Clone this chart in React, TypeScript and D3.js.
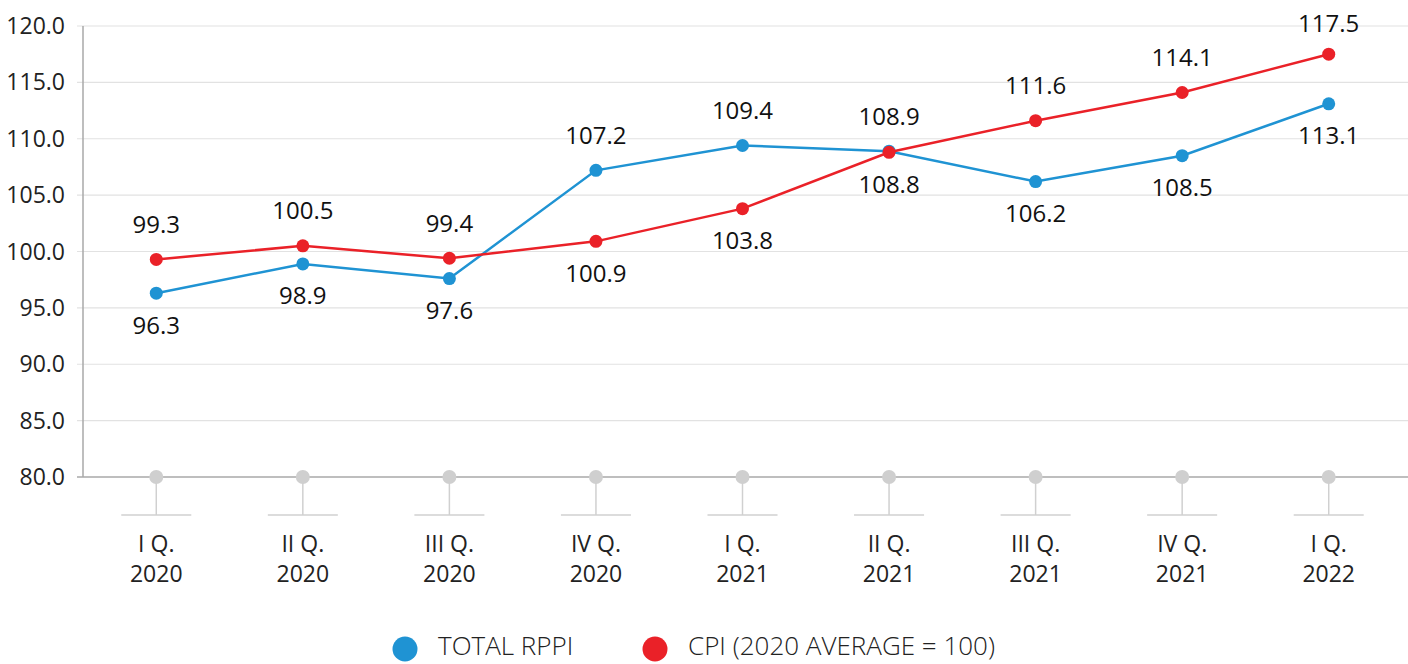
import React, { useEffect, useRef } from "react";
import * as d3 from "d3";

const quarters = ["I Q.", "II Q.", "III Q.", "IV Q.", "I Q.", "II Q.", "III Q.", "IV Q.", "I Q."];
const years = ["2020", "2020", "2020", "2020", "2021", "2021", "2021", "2021", "2022"];
const rppi = [96.3, 98.9, 97.6, 107.2, 109.4, 108.9, 106.2, 108.5, 113.1];
const cpi = [99.3, 100.5, 99.4, 100.9, 103.8, 108.8, 111.6, 114.1, 117.5];
// label side for each point: 1 = above, -1 = below
const rppiSide = [-1, -1, -1, 1, 1, 1, -1, -1, -1];
const cpiSide = [1, 1, 1, -1, -1, -1, 1, 1, 1];
const yTicks = [80, 85, 90, 95, 100, 105, 110, 115, 120];
const seriesNames = ["TOTAL RPPI", "CPI (2020 AVERAGE = 100)"];

const BLUE = "#1f93d3";
const RED = "#ea2128";
const FONT = "'Open Sans', 'Noto Sans', sans-serif";

const W = 1408;
const H = 664;

const App = () => {
  const ref = useRef<SVGSVGElement>(null);

  useEffect(() => {
    const svg = d3.select(ref.current);
    svg.selectAll("*").remove();

    const left = 83;
    const x = d3.scaleBand<number>().domain(d3.range(quarters.length)).range([left, 1402]);
    const y = d3.scaleLinear().domain([80, 120]).range([477, 26]);
    const cx = (i: number) => x(i)! + x.bandwidth() / 2;

    // grid + y axis labels
    const g = svg.append("g");
    g.selectAll("line.grid")
      .data(yTicks)
      .enter()
      .append("line")
      .attr("x1", left - 6)
      .attr("x2", W)
      .attr("y1", d => y(d))
      .attr("y2", d => y(d))
      .attr("stroke", d => (d === 80 ? "#a8a8a8" : "#e2e2e2"))
      .attr("stroke-width", d => (d === 80 ? 1.5 : 1.2));

    g.append("line")
      .attr("x1", left)
      .attr("x2", left)
      .attr("y1", y(120))
      .attr("y2", y(80))
      .attr("stroke", "#a8a8a8")
      .attr("stroke-width", 1.5);

    g.selectAll("text.ytick")
      .data(yTicks)
      .enter()
      .append("text")
      .attr("x", 65)
      .attr("y", d => y(d))
      .attr("dy", "0.35em")
      .attr("text-anchor", "end")
      .style("font-family", FONT)
      .style("font-size", "23px")
      .style("fill", "#222")
      .text(d => d.toFixed(1));

    // category markers
    const cat = svg.append("g");
    quarters.forEach((q, i) => {
      const px = cx(i);
      cat.append("line").attr("x1", px).attr("x2", px).attr("y1", y(80)).attr("y2", 515)
        .attr("stroke", "#d0d0d0").attr("stroke-width", 1.5);
      cat.append("line").attr("x1", px - 35).attr("x2", px + 35).attr("y1", 515).attr("y2", 515)
        .attr("stroke", "#d0d0d0").attr("stroke-width", 1.5);
      cat.append("circle").attr("cx", px).attr("cy", y(80)).attr("r", 7).attr("fill", "#cfcfcf");
      cat.append("text").attr("x", px).attr("y", 552).attr("text-anchor", "middle")
        .style("font-family", FONT).style("font-size", "23px").style("fill", "#222").text(q);
      cat.append("text").attr("x", px).attr("y", 582).attr("text-anchor", "middle")
        .style("font-family", FONT).style("font-size", "23px").style("fill", "#222").text(years[i]);
    });

    const line = d3.line<number>().x((d, i) => cx(i)).y(d => y(d));

    const drawSeries = (vals: number[], color: string) => {
      const sg = svg.append("g");
      sg.append("path").attr("d", line(vals)).attr("fill", "none").attr("stroke", color).attr("stroke-width", 2.5);
      sg.selectAll("circle").data(vals).enter().append("circle")
        .attr("cx", (d, i) => cx(i)).attr("cy", d => y(d)).attr("r", 6.5).attr("fill", color);
    };
    const drawLabels = (vals: number[], sides: number[]) => {
      svg.append("g").selectAll("text").data(vals).enter().append("text")
        .attr("x", (d, i) => cx(i))
        .attr("y", (d, i) => Math.max(24, y(d) + (sides[i] > 0 ? -35 : 32)))
        .attr("dy", "0.35em")
        .attr("text-anchor", "middle")
        .style("font-family", FONT)
        .style("font-size", "24px")
        .style("fill", "#111")
        .text(d => d.toFixed(1));
    };

    drawSeries(rppi, BLUE);
    drawSeries(cpi, RED);
    drawLabels(rppi, rppiSide);
    drawLabels(cpi, cpiSide);

    // legend
    const lg = svg.append("g");
    const legendX = [405, 655];
    [BLUE, RED].forEach((c, i) => {
      lg.append("circle").attr("cx", legendX[i]).attr("cy", 649).attr("r", 12.5).attr("fill", c);
      lg.append("text").attr("x", legendX[i] + 33).attr("y", 646).attr("dy", "0.36em")
        .style("font-family", FONT).style("font-size", "26px").style("font-weight", 300).style("fill", "#222")
        .text(seriesNames[i]);
    });
  }, []);

  return (
    <svg ref={ref} width={W} height={H} style={{ position: "absolute", left: 0, top: 0, background: "#fff" }} />
  );
};

export default App;
